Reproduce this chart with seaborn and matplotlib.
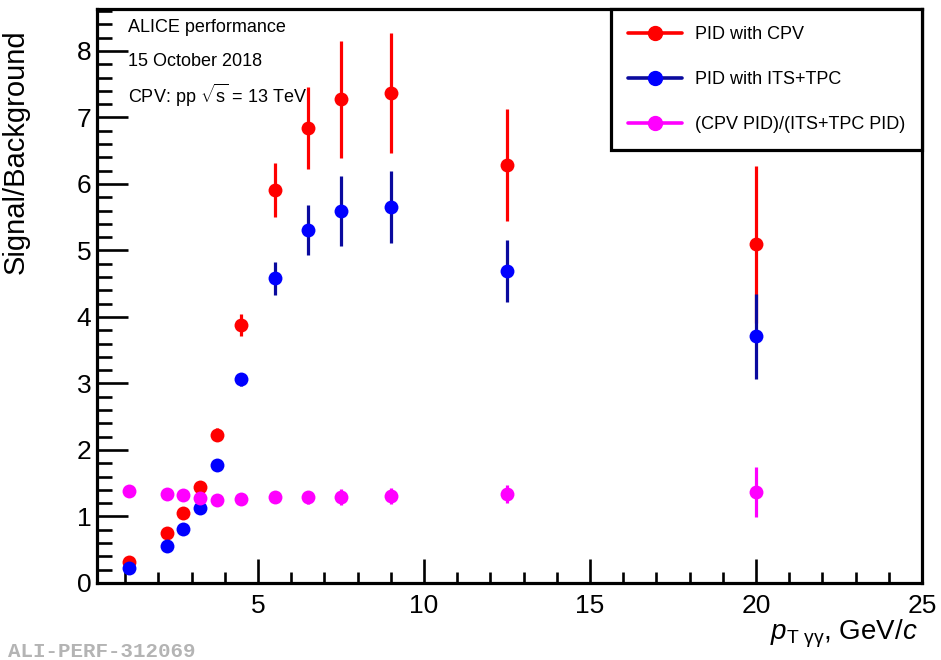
import numpy as np
import pandas as pd
import matplotlib
matplotlib.use("Agg")
import matplotlib.pyplot as plt
from matplotlib.lines import Line2D
from matplotlib.ticker import MultipleLocator
import seaborn as sns

# ---- data ----
pt = [1.1, 2.25, 2.75, 3.25, 3.75, 4.5, 5.5, 6.5, 7.5, 9.0, 12.5, 20.0]
cpv = [0.31, 0.75, 1.05, 1.45, 2.23, 3.88, 5.91, 6.84, 7.27, 7.37, 6.28, 5.09]
cpv_err = [0.03, 0.05, 0.06, 0.07, 0.10, 0.17, 0.40, 0.62, 0.88, 0.90, 0.84, 1.18]
its = [0.23, 0.56, 0.81, 1.13, 1.78, 3.06, 4.58, 5.31, 5.59, 5.65, 4.69, 3.71]
its_err = [0.02, 0.04, 0.05, 0.06, 0.06, 0.10, 0.25, 0.38, 0.53, 0.54, 0.47, 0.64]
ratio = [1.39, 1.34, 1.32, 1.28, 1.25, 1.26, 1.29, 1.29, 1.30, 1.31, 1.34, 1.37]
ratio_err = [0.03, 0.03, 0.03, 0.03, 0.03, 0.04, 0.06, 0.10, 0.12, 0.12, 0.14, 0.38]

labels = ["PID with CPV", "PID with ITS+TPC", "(CPV PID)/(ITS+TPC PID)"]
marker_colors = ["#ff0000", "#0000ff", "#ff00ff"]
bar_colors = ["#ff0000", "#0a0a9e", "#ff00ff"]

df = pd.concat([
    pd.DataFrame({"pt": pt, "val": cpv, "err": cpv_err, "series": labels[0]}),
    pd.DataFrame({"pt": pt, "val": its, "err": its_err, "series": labels[1]}),
    pd.DataFrame({"pt": pt, "val": ratio, "err": ratio_err, "series": labels[2]}),
], ignore_index=True)

sns.set_theme(style="white")
plt.rcParams["font.family"] = ["Liberation Sans", "DejaVu Sans"]
plt.rcParams["mathtext.fontset"] = "custom"
plt.rcParams["mathtext.rm"] = "Liberation Sans"
plt.rcParams["mathtext.it"] = "Liberation Sans:italic"
plt.rcParams["mathtext.bf"] = "Liberation Sans:bold"
plt.rcParams["text.color"] = "black"
plt.rcParams["axes.labelcolor"] = "black"
plt.rcParams["xtick.color"] = "black"
plt.rcParams["ytick.color"] = "black"

W, H = 941, 660
fig = plt.figure(figsize=(W / 100, H / 100), dpi=100)
L, R, B, T = 97, 922, 583, 9
ax = fig.add_axes([L / W, 1 - B / H, (R - L) / W, (B - T) / H])

for lab, mc, bc in zip(labels, marker_colors, bar_colors):
    sub = df[df["series"] == lab]
    ax.errorbar(sub["pt"], sub["val"], yerr=sub["err"], fmt="none",
                ecolor=bc, elinewidth=2.3, capsize=0, zorder=2)
    sns.scatterplot(data=sub, x="pt", y="val", color=mc, s=100,
                    linewidth=0, ax=ax, zorder=3, legend=False)

ax.set_xlim(0.15, 25)
ax.set_ylim(0, 8.63)

ax.xaxis.set_major_locator(MultipleLocator(5))
ax.xaxis.set_minor_locator(MultipleLocator(1))
ax.yaxis.set_major_locator(MultipleLocator(1))
ax.yaxis.set_minor_locator(MultipleLocator(0.2))
ax.tick_params(axis="both", which="both", direction="in", color="black",
               labelcolor="black", width=1.9, top=False, right=False,
               bottom=True, left=True, labelsize=19)
ax.tick_params(axis="y", which="major", length=22, pad=4)
ax.tick_params(axis="y", which="minor", length=11)
ax.tick_params(axis="x", which="major", length=17, pad=8)
ax.tick_params(axis="x", which="minor", length=8)
ax.set_xticks([5, 10, 15, 20, 25])
ax.set_yticks(range(0, 9))

for sp in ax.spines.values():
    sp.set_visible(True)
    sp.set_color("black")
    sp.set_linewidth(2.3)

ax.set_ylabel("Signal/Background", fontsize=21, color="black")
ax.yaxis.set_label_coords((30 - L) / (R - L), (B - 152) / (B - T))
ax.set_xlabel(r"$p_{\mathrm{T\ γγ}}$, GeV/$c$", fontsize=20,
              color="black", ha="right", va="baseline")
ax.xaxis.set_label_coords((918 - L) / (R - L), (B - 640) / (B - T))

tx = (128 - L) / (R - L)
for ytxt, s in [(27, "ALICE performance"), (62, "15 October 2018"),
                (95, r"CPV: pp $\sqrt{\mathrm{s}}$ = 13 TeV")]:
    ax.text(tx, (B - ytxt) / (B - T), s, transform=ax.transAxes,
            fontsize=13, color="black", ha="left", va="center")

handles = [Line2D([], [], color=bc, lw=2.6, marker="o", markersize=10,
                  markerfacecolor=mc, markeredgecolor=mc)
           for mc, bc in zip(marker_colors, bar_colors)]
leg = ax.legend(handles, labels, loc="upper right",
                bbox_to_anchor=(1.0, 1.0), borderaxespad=0,
                fontsize=13, handlelength=3.0, handletextpad=0.7,
                labelspacing=1.55, borderpad=0.95, fancybox=False,
                framealpha=1, edgecolor="black", frameon=True,
                labelcolor="black")
leg.get_frame().set_linewidth(2.3)
leg.set_zorder(5)

fig.text(8 / W, 1 - 657 / H, "ALI-PERF-312069", fontsize=15,
         family=["Liberation Mono", "DejaVu Sans Mono"], weight="bold",
         color="#b4b4b4", ha="left", va="baseline")

fig.savefig("out.png", dpi=100)
